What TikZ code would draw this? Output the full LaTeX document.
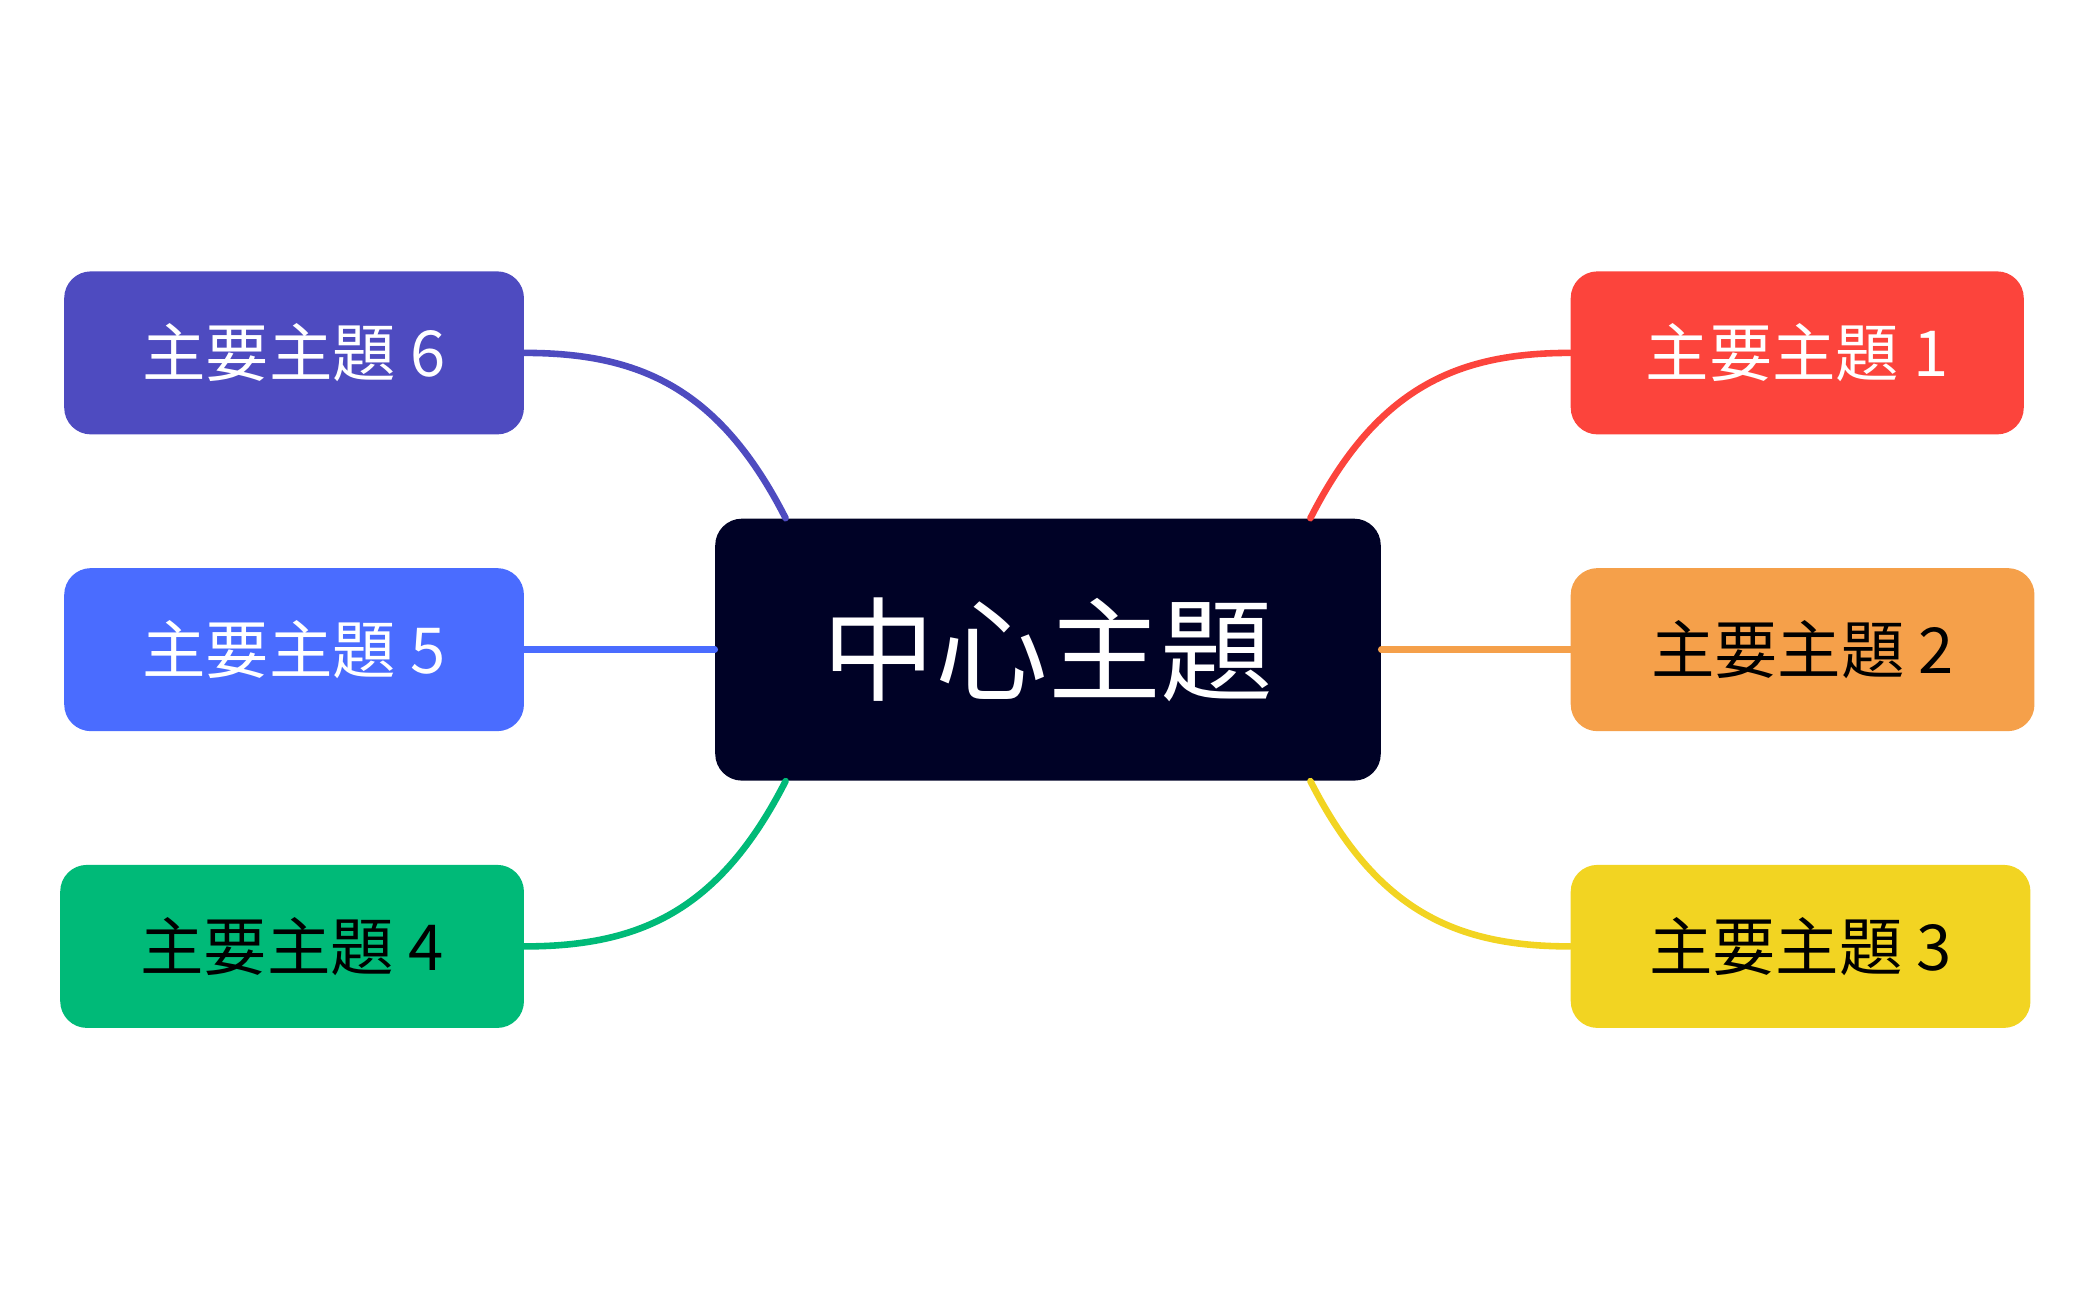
\documentclass[tikz,border=0pt]{standalone}
\usepackage{fontspec}
\setmainfont{Noto Sans CJK TC}
\usetikzlibrary{calc}
\definecolor{cnavy}{HTML}{000226}
\definecolor{cred}{HTML}{FC443C}
\definecolor{corange}{HTML}{F5A04A}
\definecolor{cyellow}{HTML}{F2D422}
\definecolor{cgreen}{HTML}{00BA78}
\definecolor{cblue}{HTML}{4A6CFF}
\definecolor{cpurple}{HTML}{4E4BC0}
\tikzset{
  topic/.style={rounded corners=0.4cm,minimum height=2.44cm,inner sep=0pt,font=\fontsize{27}{30}\selectfont},
  link/.style={line width=2.8pt,line cap=round}
}
\begin{document}
\begin{tikzpicture}[x=0.02cm,y=-0.02cm]
\useasboundingbox (0,0) rectangle (1568,972);

\node[topic,fill=cnavy,text=white,minimum width=9.96cm,minimum height=3.92cm,font=\fontsize{48}{52}\selectfont] (c) at (784,486) {中心主題};
\node[topic,fill=cred,text=white,minimum width=6.78cm]     (t1) at (1344.5,264) {主要主題 1};
\node[topic,fill=corange,text=black,minimum width=6.94cm]  (t2) at (1348.5,486) {主要主題 2};
\node[topic,fill=cyellow,text=black,minimum width=6.88cm]  (t3) at (1347,708) {主要主題 3};
\node[topic,fill=cgreen,text=black,minimum width=6.94cm]   (t4) at (218.5,708) {主要主題 4};
\node[topic,fill=cblue,text=white,minimum width=6.88cm]    (t5) at (220,486) {主要主題 5};
\node[topic,fill=cpurple,text=white,minimum width=6.88cm]  (t6) at (220,264) {主要主題 6};

\begin{scope}[on background layer/.try]
\end{scope}
\draw[link,cred] ($(c.north east)+(-53,0)$) .. controls (1030,290) and (1090,264) .. (t1.west);
\draw[link,corange] (c.east) -- (t2.west);
\draw[link,cyellow] ($(c.south east)+(-53,0)$) .. controls (1030,682) and (1090,708) .. (t3.west);
\draw[link,cgreen] ($(c.south west)+(53,0)$) .. controls (538,682) and (478,708) .. (t4.east);
\draw[link,cblue] (c.west) -- (t5.east);
\draw[link,cpurple] ($(c.north west)+(53,0)$) .. controls (538,290) and (478,264) .. (t6.east);
\end{tikzpicture}
\end{document}
